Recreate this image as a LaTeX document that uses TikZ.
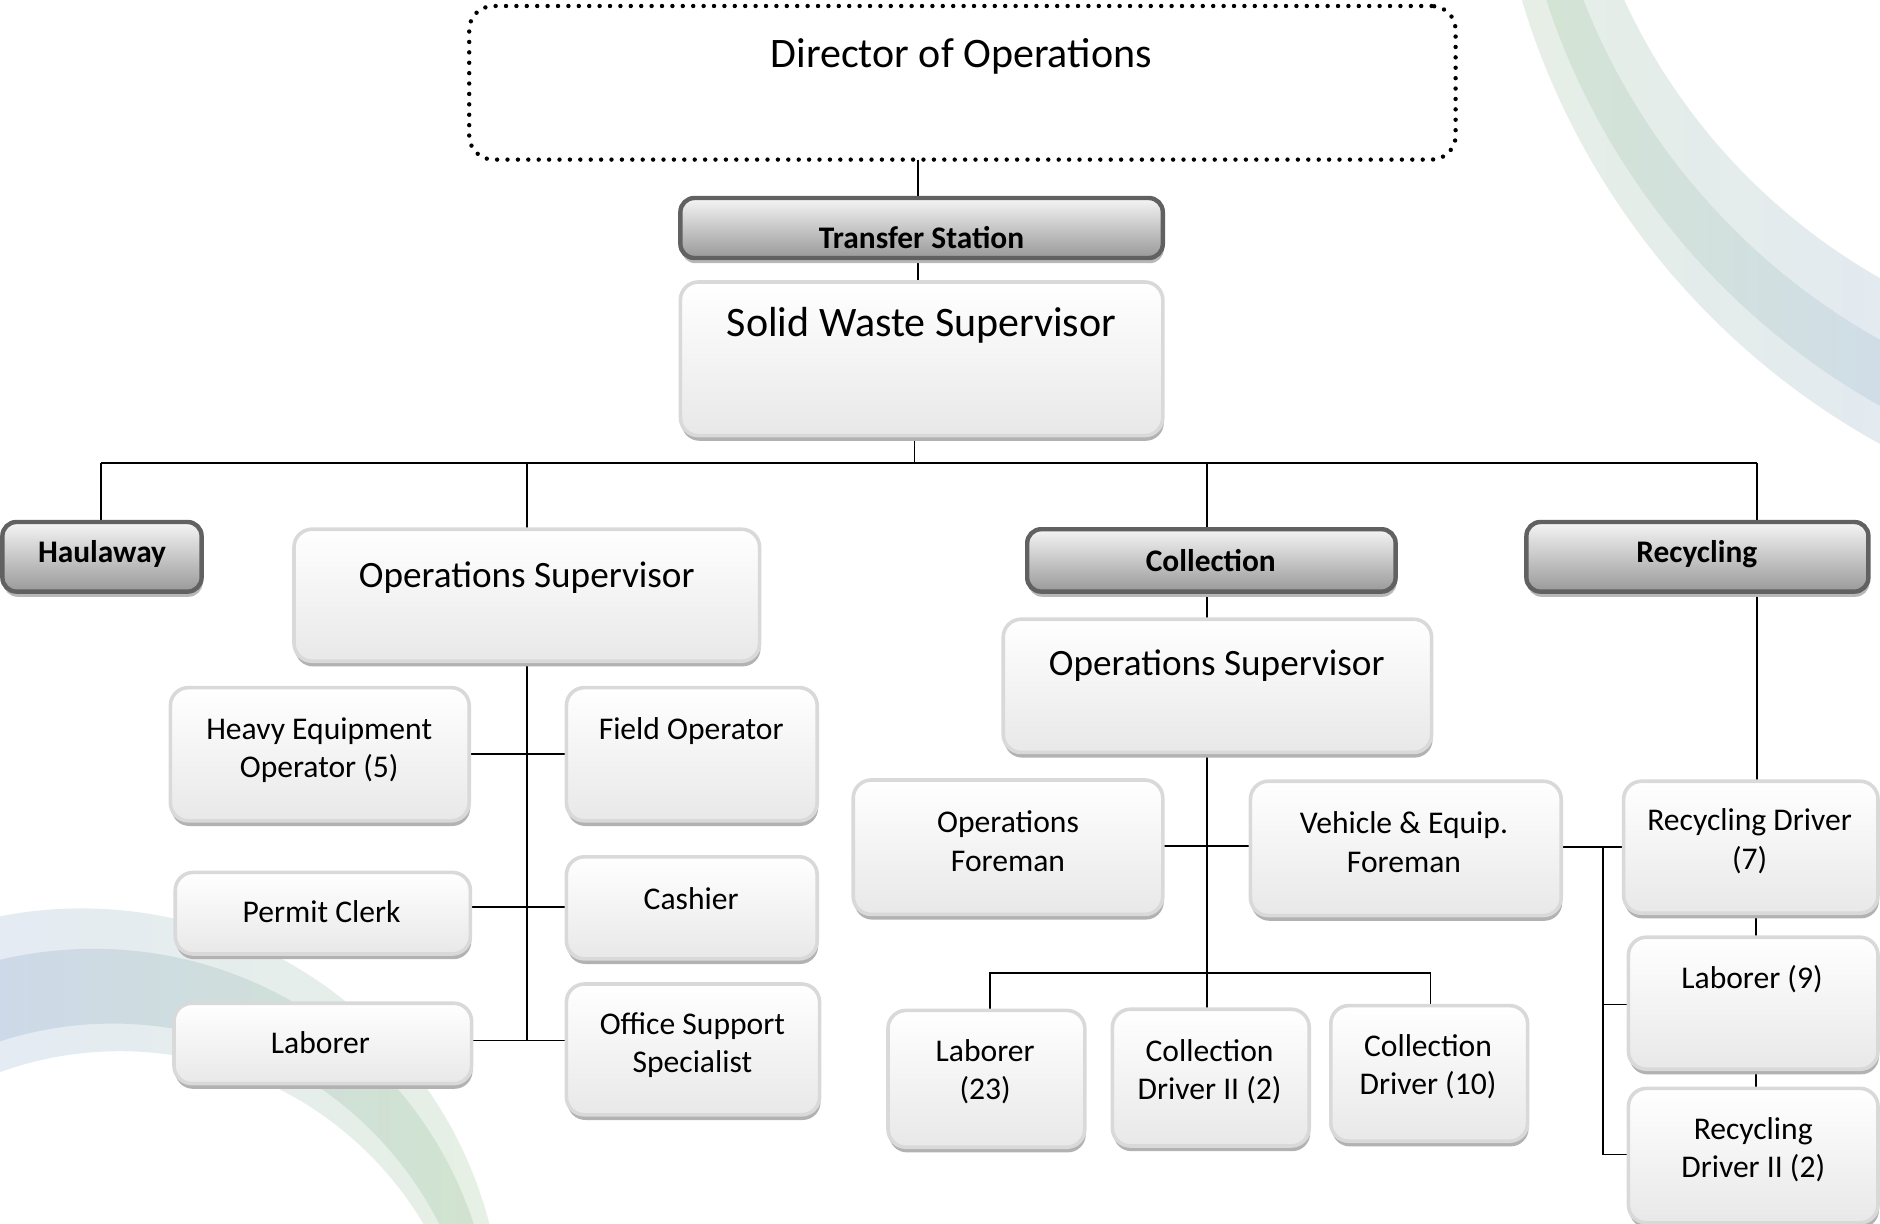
\documentclass[tikz,border=0pt]{standalone}
\usepackage{fontspec}
\setmainfont{Carlito}
\usetikzlibrary{shadows}
\pgfdeclarelayer{bg}
\pgfsetlayers{bg,main}
\definecolor{trG1}{HTML}{E6EFE5}
\definecolor{trB1}{HTML}{E3EAF0}
\definecolor{trG2}{HTML}{D4E5D1}
\definecolor{trB2}{HTML}{D0DDE7}
\definecolor{blB1}{HTML}{E4EBF3}
\definecolor{blG1}{HTML}{E6F0E4}
\definecolor{blB2}{HTML}{CDD9E8}
\definecolor{blG2}{HTML}{D1E4CE}
\tikzset{
  box/.style={draw=black!15, line width=1.8pt, rounded corners=9pt,
    top color=white, bottom color=black!9, inner sep=0pt, outer sep=0pt,
    drop shadow={shadow xshift=0.5pt, shadow yshift=-2.6pt, fill=black!30, opacity=1}},
  hdr/.style={draw=black!62, line width=2.2pt, rounded corners=7pt,
    top color=white!96!black, bottom color=black!40, inner sep=0pt, outer sep=0pt,
    drop shadow={shadow xshift=0.5pt, shadow yshift=-2.6pt, fill=black!28, opacity=1}},
  dirbox/.style={draw=black, line width=2.2pt, dash pattern=on 0pt off 5.2pt,
    line cap=round, rounded corners=12pt, inner sep=0pt, outer sep=0pt},
  conn/.style={draw=black, line width=0.9pt},
  tbig/.style={font=\fontsize{21}{25}\selectfont, inner sep=0pt},
  tmid/.style={font=\fontsize{18.6}{22}\selectfont, inner sep=0pt},
  tsm/.style={font=\fontsize{15.8}{19.3}\selectfont, align=center, inner sep=0pt},
  tbold/.style={font=\fontsize{15.7}{19}\selectfont\bfseries, inner sep=0pt},
}
\newcommand\bx[6]{%
  \node[#1, minimum width={(#5-#3)*0.6pt}, minimum height={(#6-#4)*0.6pt}]
    (#2) at ({(#3+#5)/2},{(#4+#6)/2}) {};}
\begin{document}
\begin{tikzpicture}[x=0.6pt, y=-0.6pt]
\useasboundingbox (0,0) rectangle (1566.67,1020);

% ---------- background swooshes ----------
\begin{pgfonlayer}{bg}
\begin{scope}
  \clip (0,0) rectangle (1566.67,1020);
  % top right
  \begin{scope}[even odd rule]
    \clip (1870,-180) circle[radius=376.8pt] (1820,-215) circle[radius=308.1pt];
    \shade[left color=trG1, right color=trB1] (1240,0) rectangle (1567,420);
  \end{scope}
  \begin{scope}[even odd rule]
    \clip (1862,-188) circle[radius=362pt] (1838,-203) circle[radius=334pt];
    \shade[left color=trG2, right color=trB2] (1240,0) rectangle (1567,420);
  \end{scope}
  % bottom left
  \begin{scope}[even odd rule]
    \clip (68,1108) circle[radius=210.6pt] (100,1170) circle[radius=176.4pt];
    \shade[left color=blB1, right color=blG1] (0,740) rectangle (420,1020);
  \end{scope}
  \begin{scope}[even odd rule]
    \clip (78,1124) circle[radius=200pt] (94,1158) circle[radius=183pt];
    \shade[left color=blB2, right color=blG2] (0,740) rectangle (420,1020);
  \end{scope}
\end{scope}
\end{pgfonlayer}

% ---------- boxes ----------
\bx{dirbox}{dir}{391}{5}{1213}{133}
\node[tbig] (dirt) at (801,47) {Director of Operations};

\bx{hdr}{ts}{567}{165}{969}{215}
\node[tbold] (tst) at (768,198) {Transfer Station};

\bx{box}{sws}{567}{235}{969}{363}
\node[tbig] (swst) at (768,271) {Solid Waste Supervisor};

\bx{hdr}{haul}{2}{435}{168}{493}
\node[tbold] (hault) at (85,462) {Haulaway};

\bx{box}{ops1}{245}{441}{633}{551}
\node[tmid] (ops1t) at (439,481) {Operations Supervisor};

\bx{hdr}{coll}{856}{441}{1163}{493}
\node[tbold] (collt) at (1009,467) {Collection};

\bx{hdr}{rec}{1272}{435}{1557}{493}
\node[tbold] (rect) at (1414,462) {Recycling};

\bx{box}{heo}{142}{573}{391}{684}
\node[tsm] (heot) at (266,625) {Heavy Equipment\\Operator (5)};

\bx{box}{fo}{472}{573}{681}{684}
\node[tsm] (fot) at (576,609) {Field Operator};

\bx{box}{pc}{146}{727}{392}{795}
\node[tsm] (pct) at (268,760) {Permit Clerk};

\bx{box}{cash}{472}{714}{681}{799}
\node[tsm] (casht) at (576,749) {Cashier};

\bx{box}{labone}{145}{836}{393}{903}
\node[tsm] (labonet) at (267,869) {Laborer};

\bx{box}{oss}{472}{820}{683}{929}
\node[tsm] (osst) at (577,871) {Office Support\\Specialist};

\bx{box}{ops2}{836}{516}{1193}{627}
\node[tmid] (ops2t) at (1014,555) {Operations Supervisor};

\bx{box}{of}{711}{650}{969}{762}
\node[tsm] (oft) at (840,701) {Operations\\Foreman};

\bx{box}{vef}{1042}{651}{1301}{763}
\node[tsm] (veft) at (1170,702) {Vehicle \& Equip.\\Foreman};

\bx{box}{labtt}{740}{842}{904}{956}
\node[tsm] (labttt) at (821,893) {Laborer\\(23)};

\bx{box}{cdtwo}{927}{841}{1091}{955}
\node[tsm] (cdtwot) at (1008,893) {Collection\\Driver II (2)};

\bx{box}{cdten}{1109}{838}{1273}{951}
\node[tsm] (cdtent) at (1190,889) {Collection\\Driver (10)};

\bx{box}{rdseven}{1353}{651}{1565}{761}
\node[tsm] (rdsevent) at (1458,701) {Recycling Driver\\(7)};

\bx{box}{labnine}{1357}{781}{1565}{891}
\node[tsm] (labninet) at (1460,816) {Laborer (9)};

\bx{box}{rdtwo}{1357}{907}{1565}{1019}
\node[tsm] (rdtwot) at (1461,958) {Recycling\\Driver II (2)};

% ---------- connectors ----------
\begin{pgfonlayer}{bg}
\coordinate (topx) at (765,0);
\coordinate (swsx) at (762,0);
\coordinate (bL) at (84,386);
\coordinate (bR) at (1464,386);
\coordinate (cx) at (1006,386);
\coordinate (lx) at (439,0);
\coordinate (rb) at (1336,706);
\coordinate (rx) at (1463,0);
\coordinate (yHe) at (0,628);
\coordinate (yPc) at (0,756);
\coordinate (yLa) at (0,867);
\coordinate (yOf) at (0,705);
\coordinate (cbL) at (825,811);
\coordinate (cbR) at (1192,811);
\coordinate (yLn) at (0,837);
\coordinate (yRt) at (0,962);

\draw[conn] (topx |- dir.south) -- (topx |- ts.north);
\draw[conn] (topx |- ts.south) -- (topx |- sws.north);
\draw[conn] (swsx |- sws.south) -- (swsx |- bL);
\draw[conn] (bL) -- (bR);
\draw[conn] (bL) -- (bL |- haul.north);
\draw[conn] (lx |- bL) -- (lx |- ops1.north);
\draw[conn] (cx) -- (cx |- coll.north);
\draw[conn] (bR) -- (bR |- rec.north);

% left branch
\draw[conn] (lx |- ops1.south) -- (lx |- yLa);
\draw[conn] (heo.east |- yHe) -- (fo.west |- yHe);
\draw[conn] (pc.east |- yPc) -- (cash.west |- yPc);
\draw[conn] (labone.east |- yLa) -- (oss.west |- yLa);

% collection branch
\draw[conn] (cx |- coll.south) -- (cx |- ops2.north);
\draw[conn] (cx |- ops2.south) -- (cx |- cdtwo.north);
\draw[conn] (of.east |- yOf) -- (vef.west |- yOf);
\draw[conn] (cbL |- labtt.north) -- (cbL) -- (cbR) -- (cbR |- cdten.north);

% recycling branch
\draw[conn] (bR |- rec.south) -- (bR |- rdseven.north);
\draw[conn] (rx |- rdseven.south) -- (rx |- labnine.north);
\draw[conn] (rx |- labnine.south) -- (rx |- rdtwo.north);
\draw[conn] (vef.east |- rb) -- (rdseven.west |- rb);
\draw[conn] (rb) -- (rb |- yRt) -- (rdtwo.west |- yRt);
\draw[conn] (rb |- yLn) -- (labnine.west |- yLn);
\end{pgfonlayer}
\end{tikzpicture}
\end{document}
